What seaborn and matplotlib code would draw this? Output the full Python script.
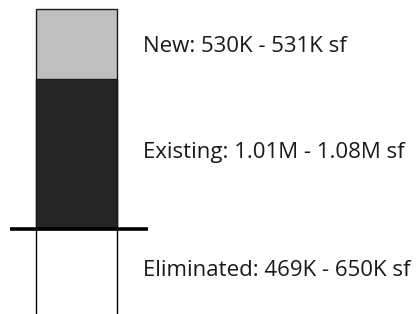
#!/usr/bin/env python3
import pandas as pd
import matplotlib
matplotlib.use("Agg")
import matplotlib.pyplot as plt
import seaborn as sns

# bar segment heights (thousand sf)
segments = ["New", "Existing", "Eliminated"]
heights = [530, 1130, 650]
labels = ["New: 530K - 531K sf",
          "Existing: 1.01M - 1.08M sf",
          "Eliminated: 469K - 650K sf"]


def main():
    sns.set_style("white")
    plt.rcParams['font.family'] = ['Open Sans', 'DejaVu Sans']

    fig = plt.figure(figsize=(4.19, 3.14), dpi=100)
    ax = fig.add_axes([0, 0, 1, 1])

    new, existing, elim = heights
    df = pd.DataFrame({
        "bar": ["a", "a", "a"],
        "part": segments,
        "value": [new + existing, existing, -elim],
    })

    # light grey = new on top of existing
    sns.barplot(data=df[df.part == "New"], x="bar", y="value",
                color="#bfbfbf", edgecolor="#1a1a1a", linewidth=1,
                width=0.8, ax=ax)
    sns.barplot(data=df[df.part == "Existing"], x="bar", y="value",
                color="#262626", edgecolor="#1a1a1a", linewidth=1,
                width=0.8, ax=ax)
    # eliminated hangs below the baseline, just an outline
    sns.barplot(data=df[df.part == "Eliminated"], x="bar", y="value",
                color="white", edgecolor="black", linewidth=1,
                width=0.8, ax=ax)

    ax.plot([-0.65, 0.70], [0, 0], color="black", lw=2.6,
            solid_capstyle="butt", zorder=5)

    ax.set_xlim(-0.75, 3.36)
    ax.set_ylim(-646, 1731)
    ax.axis("off")

    ys = [1338, 535, -358]
    for y, t in zip(ys, labels):
        ax.text(0.655, y, t, fontsize=16, color="#1a1a1a", va="baseline")

    fig.savefig("out.png", dpi=100)


if __name__ == "__main__":
    main()
